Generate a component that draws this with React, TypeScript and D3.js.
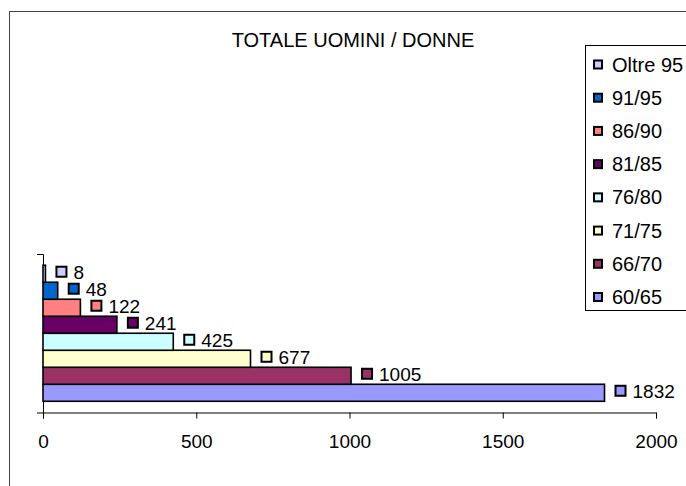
import React, { useEffect, useRef } from 'react';
import * as d3 from 'd3';

const title = 'TOTALE UOMINI / DONNE';

// age groups, bottom to top
const categories = ['60/65', '66/70', '71/75', '76/80', '81/85', '86/90', '91/95', 'Oltre 95'];
const values = [1832, 1005, 677, 425, 241, 122, 48, 8];
const xTicks = [0, 500, 1000, 1500, 2000];

const colors = [
  '#9999FF', // 60/65
  '#993366', // 66/70
  '#FFFFCC', // 71/75
  '#CCFFFF', // 76/80
  '#660066', // 81/85
  '#FF8080', // 86/90
  '#0066CC', // 91/95
  '#CCCCFF', // Oltre 95
];

const width = 686;
const height = 486;
const font = 'Liberation Sans, Arial, sans-serif';

const App: React.FC = () => {
  const ref = useRef<SVGSVGElement | null>(null);

  useEffect(() => {
    if (!ref.current) return;

    const svg = d3.select(ref.current).html('');

    // chart frame (cut at the right/bottom edges)
    svg
      .append('rect')
      .attr('x', 9.5)
      .attr('y', 11.5)
      .attr('width', 700)
      .attr('height', 500)
      .attr('fill', '#fff')
      .attr('stroke', '#444')
      .attr('stroke-width', 1);

    svg
      .append('text')
      .attr('x', 353)
      .attr('y', 46.5)
      .attr('text-anchor', 'middle')
      .attr('font-family', font)
      .attr('font-size', '20px')
      .text(title);

    const x = d3.scaleLinear().domain([0, 2000]).range([43, 656]);
    const y = d3
      .scaleBand<string>()
      .domain(categories)
      .range([412.5, 254])
      .paddingInner(0)
      .paddingOuter(0.66);
    const yFrame = d3.scaleLinear().domain([0, 1]).range([412.5, 254]);

    // x axis
    const xAxis = svg
      .append('g')
      .attr('transform', 'translate(0,412.5)')
      .call(d3.axisBottom(x).tickValues(xTicks).tickSize(6).tickSizeOuter(6).tickFormat(d3.format('d')));
    xAxis.select('.domain').attr('stroke', '#000');
    xAxis.selectAll('.tick line').attr('stroke', '#000');
    xAxis
      .selectAll('.tick text')
      .attr('y', 35.5)
      .attr('dy', null)
      .attr('font-family', font)
      .attr('font-size', '19px')
      .attr('fill', '#000');

    // y axis (category axis, only end ticks)
    const yAxis = svg
      .append('g')
      .attr('transform', 'translate(43,0)')
      .call(d3.axisLeft(yFrame).tickValues([]).tickSizeOuter(6));
    yAxis.select('.domain').attr('stroke', '#000');

    const rows = categories.map((c, i) => ({ label: c, value: values[i], color: colors[i] }));

    // bars
    svg
      .selectAll('.bar')
      .data(rows)
      .enter()
      .append('rect')
      .attr('class', 'bar')
      .attr('x', x(0))
      .attr('y', (d) => y(d.label)!)
      .attr('width', (d) => x(d.value) - x(0))
      .attr('height', y.bandwidth())
      .attr('fill', (d) => d.color)
      .attr('stroke', '#000')
      .attr('stroke-width', 1.6);

    // data labels with legend key
    const labels = svg.selectAll('.lbl').data(rows).enter().append('g').attr('class', 'lbl');
    labels
      .append('rect')
      .attr('x', (d) => x(d.value) + 11)
      .attr('y', (d) => y(d.label)! + y.bandwidth() / 2 - 7)
      .attr('width', 10)
      .attr('height', 10)
      .attr('fill', (d) => d.color)
      .attr('stroke', '#000')
      .attr('stroke-width', 2);
    labels
      .append('text')
      .attr('x', (d) => x(d.value) + 28)
      .attr('y', (d) => y(d.label)! + y.bandwidth() / 2 + 5.5)
      .attr('font-family', font)
      .attr('font-size', '19px')
      .text((d) => d.value);

    // legend
    const legend = svg.append('g');
    legend
      .append('rect')
      .attr('x', 585.5)
      .attr('y', 45.5)
      .attr('width', 120)
      .attr('height', 265)
      .attr('fill', '#fff')
      .attr('stroke', '#000')
      .attr('stroke-width', 1);

    const legendRows = rows.slice().reverse();
    const ly = d3.scalePoint<string>().domain(legendRows.map((d) => d.label)).range([64.5, 297]);

    const items = legend.selectAll('.item').data(legendRows).enter().append('g').attr('class', 'item');
    items
      .append('rect')
      .attr('x', 594)
      .attr('y', (d) => ly(d.label)! - 4)
      .attr('width', 8)
      .attr('height', 8)
      .attr('fill', (d) => d.color)
      .attr('stroke', '#000')
      .attr('stroke-width', 2);
    items
      .append('text')
      .attr('x', 612)
      .attr('y', (d) => ly(d.label)! + 7)
      .attr('font-family', font)
      .attr('font-size', '20px')
      .text((d) => d.label);
  }, []);

  return (
    <svg
      ref={ref}
      width={width}
      height={height}
      style={{ position: 'absolute', left: 0, top: 0, background: '#fff' }}
    ></svg>
  );
};

export default App;
